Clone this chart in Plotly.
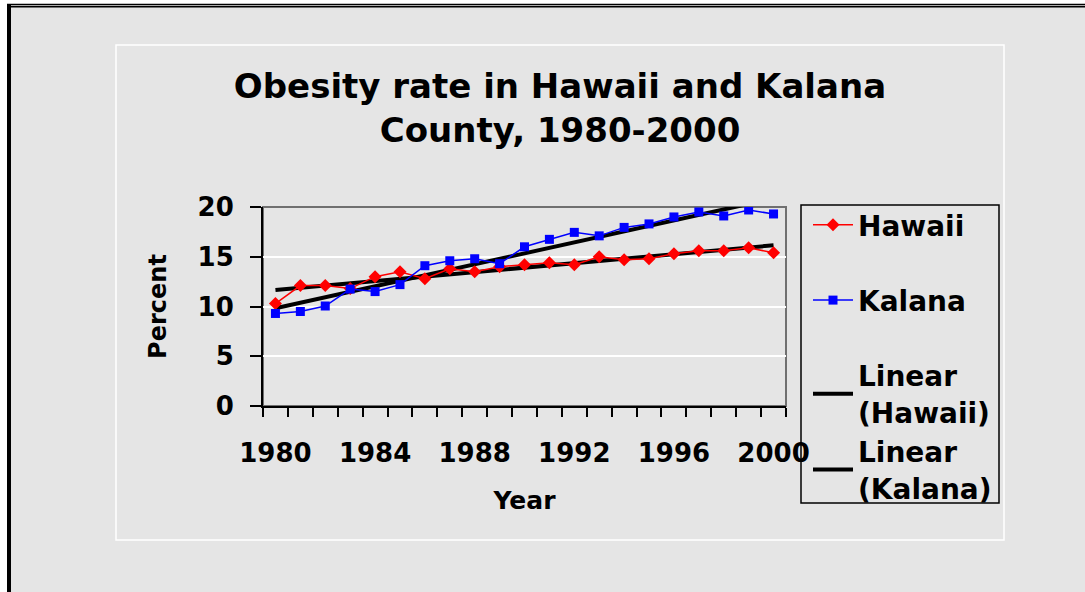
import numpy as np
import plotly.graph_objects as go

# data
years = list(range(1980, 2001))
hawaii = [10.3, 12.1, 12.1, 11.8, 13.0, 13.5, 12.8, 13.8, 13.5, 14.0, 14.2,
          14.4, 14.2, 15.0, 14.7, 14.8, 15.3, 15.6, 15.6, 15.9, 15.4]
kalana = [9.3, 9.5, 10.05, 11.75, 11.5, 12.2, 14.1, 14.6, 14.8, 14.3, 16.0,
          16.75, 17.45, 17.1, 17.95, 18.3, 19.0, 19.5, 19.1, 19.7, 19.3]
x_labels = [1980, 1984, 1988, 1992, 1996, 2000]
y_ticks = [0, 5, 10, 15, 20]

W, H = 1085, 592
L, R, T, B = 263, 786, 207, 406  # plot area in pixels
FONT = "DejaVu Sans"
BG = "#e5e5e5"


def px(x):
    return (x - L) / (R - L)


def py(y):
    return (B - y) / (B - T)


# linear trend lines (least squares, like Excel's "Linear" trendline)
yrs = np.array(years)
fit_h = np.polyval(np.polyfit(yrs, hawaii, 1), yrs)
fit_k = np.polyval(np.polyfit(yrs, kalana, 1), yrs)

fig = go.Figure()

fig.add_trace(go.Scatter(
    x=years, y=fit_h, mode="lines", name="Linear<br>(Hawaii)",
    line=dict(color="black", width=4), legendgroup="lin", legendrank=3))
fig.add_trace(go.Scatter(
    x=years, y=fit_k, mode="lines", name="Linear<br>(Kalana)",
    line=dict(color="black", width=4), legendgroup="lin", legendrank=4))
fig.add_trace(go.Scatter(
    x=years, y=hawaii, mode="lines+markers", name="Hawaii",
    line=dict(color="#ff0000", width=1.5),
    marker=dict(symbol="diamond", size=10, color="#ff0000"),
    legendgroup="h", legendrank=1))
fig.add_trace(go.Scatter(
    x=years, y=kalana, mode="lines+markers", name="Kalana",
    line=dict(color="#0000ff", width=1.5),
    marker=dict(symbol="square", size=9, color="#0000ff"),
    legendgroup="k", legendrank=2))

shapes = [
    # white strips and black frame of the page
    dict(type="rect", xref="paper", yref="paper", x0=px(0), x1=px(7), y0=py(H), y1=py(0),
         fillcolor="white", line_width=0, layer="below"),
    dict(type="rect", xref="paper", yref="paper", x0=px(0), x1=px(W), y0=py(4), y1=py(0),
         fillcolor="white", line_width=0, layer="below"),
    dict(type="line", xref="paper", yref="paper", x0=px(9), x1=px(9), y0=py(4), y1=py(H),
         line=dict(color="black", width=4)),
    dict(type="line", xref="paper", yref="paper", x0=px(7), x1=px(W), y0=py(4.5), y1=py(4.5),
         line=dict(color="black", width=1.5)),
    dict(type="line", xref="paper", yref="paper", x0=px(7), x1=px(W), y0=py(6.8), y1=py(6.8),
         line=dict(color="black", width=1.5)),
    # chart area border
    dict(type="rect", xref="paper", yref="paper", x0=px(116), x1=px(1004), y0=py(540), y1=py(45),
         line=dict(color="white", width=1.5), layer="below"),
    # plot area border
    dict(type="rect", xref="paper", yref="paper", x0=0, x1=1, y0=0, y1=1,
         line=dict(color="#707070", width=2), layer="below"),
    # legend box
    dict(type="rect", xref="paper", yref="paper", x0=px(801), x1=px(999), y0=py(503), y1=py(205),
         line=dict(color="black", width=1.5)),
]

fig.update_layout(
    width=W, height=H,
    margin=dict(l=L, r=W - R, t=T, b=H - B),
    paper_bgcolor=BG, plot_bgcolor=BG,
    font=dict(family=FONT, color="black", weight="bold"),
    title=dict(
        text="Obesity rate in Hawaii and Kalana<br>County, 1980-2000",
        font=dict(family=FONT, size=34, color="black", weight="bold"),
        xref="paper", x=px(560), xanchor="center",
        yref="container", y=1 - 98 / H, yanchor="top"),
    showlegend=True,
    legend=dict(
        x=px(808), y=py(200), xanchor="left", yanchor="top",
        borderwidth=0, bgcolor="rgba(0,0,0,0)",
        font=dict(family=FONT, size=28, color="black", weight="bold"),
        tracegroupgap=36, traceorder="grouped", itemwidth=40,
        maxheight=450),
    shapes=shapes,
)

fig.update_xaxes(
    range=[1979.5, 2000.5], tickvals=x_labels, ticks="",
    showgrid=False, zeroline=False,
    showline=True, linecolor="black", linewidth=2,
    minor=dict(ticks="outside", tick0=1979.5, dtick=1, ticklen=9,
               tickcolor="black", tickwidth=1.5, showgrid=False),
    tickfont=dict(family=FONT, size=26, color="black", weight="bold"),
    ticklabelstandoff=23,
    title=dict(text="Year", standoff=24,
               font=dict(family=FONT, size=25, color="black", weight="bold")),
)
fig.update_yaxes(
    range=[0, 20], tickvals=y_ticks, ticks="outside", ticklen=11,
    tickcolor="black", tickwidth=1.5,
    showgrid=True, gridcolor="white", gridwidth=1.5, zeroline=False,
    showline=True, linecolor="black", linewidth=2,
    tickfont=dict(family=FONT, size=26, color="black", weight="bold"),
    ticklabelstandoff=11,
    title=dict(text="Percent", standoff=24,
               font=dict(family=FONT, size=24, color="black", weight="bold")),
)

fig.write_html("out.html", config={"displayModeBar": False},
               post_script="document.body.style.margin = '0';")
